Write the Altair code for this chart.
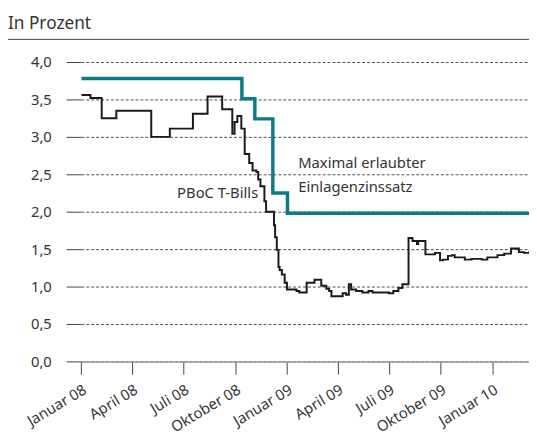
import altair as alt
import pandas as pd

# PBoC T-Bills (in %)
bill_dates = [
    "2008-01-02", "2008-01-18", "2008-02-07", "2008-03-04", "2008-05-05",
    "2008-06-07", "2008-07-18", "2008-08-13", "2008-09-08", "2008-09-26",
    "2008-09-30", "2008-10-05", "2008-10-12", "2008-10-18", "2008-10-26",
    "2008-11-01", "2008-11-08", "2008-11-11", "2008-11-15", "2008-11-22",
    "2008-11-25", "2008-12-09", "2008-12-11", "2008-12-14", "2008-12-17",
    "2008-12-19", "2008-12-23", "2008-12-28", "2009-01-01", "2009-01-04",
    "2009-01-18", "2009-01-23", "2009-02-05", "2009-02-19", "2009-03-03",
    "2009-03-12", "2009-03-17", "2009-03-21", "2009-04-10", "2009-04-16",
    "2009-04-21", "2009-04-25", "2009-05-04", "2009-05-15", "2009-05-26",
    "2009-06-02", "2009-07-01", "2009-07-09", "2009-07-18", "2009-07-25",
    "2009-08-05", "2009-08-12", "2009-08-20", "2009-08-22", "2009-09-04",
    "2009-09-21", "2009-09-30", "2009-10-05", "2009-10-14", "2009-10-21",
    "2009-10-26", "2009-11-13", "2009-11-25", "2009-12-13", "2009-12-23",
    "2010-01-10", "2010-01-22", "2010-02-03", "2010-02-12", "2010-02-17",
    "2010-02-26", "2010-03-07",
]
bill_vals = [
    3.56, 3.52, 3.25, 3.35, 3.00,
    3.11, 3.31, 3.54, 3.37, 3.04,
    3.20, 3.28, 3.11, 2.77, 2.65,
    2.55, 2.53, 2.43, 2.34, 2.14,
    2.00, 1.82, 1.66, 1.49, 1.26,
    1.22, 1.16, 1.05, 0.96, 0.96,
    0.94, 0.92, 1.05, 1.09, 1.01,
    0.97, 0.94, 0.87, 0.91, 0.89,
    1.03, 0.96, 0.94, 0.92, 0.94,
    0.92, 0.91, 0.94, 0.98, 1.03,
    1.65, 1.61, 1.57, 1.61, 1.43,
    1.45, 1.35, 1.36, 1.41, 1.42,
    1.39, 1.36, 1.37, 1.36, 1.39,
    1.42, 1.44, 1.51, 1.51, 1.46,
    1.45, 1.47,
]

# Maximal erlaubter Einlagenzinssatz (in %)
cap_dates = ["2008-01-02", "2008-10-13", "2008-11-05", "2008-12-07", "2009-01-02", "2010-03-07"]
cap_vals = [3.78, 3.51, 3.24, 2.25, 1.98, 1.98]

# annotations
left_texts = ["PBoC T-Bills"]
left_dates = ["2008-11-11"]
left_vals = [2.25]
right_texts = ["Maximal erlaubter", "Einlagenzinssatz"]
right_dates = ["2009-01-21", "2009-01-21"]
right_vals = [2.65, 2.33]

y_ticks = [0, 0.5, 1.0, 1.5, 2.0, 2.5, 3.0, 3.5, 4.0]
x_ticks = [(2008, 1), (2008, 4), (2008, 7), (2008, 10), (2009, 1), (2009, 4), (2009, 7), (2009, 10), (2010, 1)]

FONT = "Noto Sans"
TXT = "#333333"


def local(ds):
    return [d + "T00:00:00" for d in ds]


bills = pd.DataFrame({"date": local(bill_dates), "value": bill_vals})
caps = pd.DataFrame({"date": local(cap_dates), "value": cap_vals})
ann_l = pd.DataFrame({"text": left_texts, "date": local(left_dates), "value": left_vals})
ann_r = pd.DataFrame({"text": right_texts, "date": local(right_dates), "value": right_vals})

x_scale = alt.Scale(domain=[alt.DateTime(year=2008, month=1, date=1),
                            alt.DateTime(year=2010, month=3, date=7)])
y_scale = alt.Scale(domain=[0, 4])

month_names = "['Januar','Februar','März','April','Mai','Juni','Juli','August','September','Oktober','November','Dezember']"

x_axis = alt.Axis(
    values=[alt.DateTime(year=y, month=m, date=1) for y, m in x_ticks],
    tickCount=40, labelOverlap=False,
    labelExpr=month_names + "[month(datum.value)] + ' ' + timeFormat(datum.value, '%y')",
    labelAngle=-31, labelAlign="right", labelBaseline="top", labelPadding=8,
    labelFont=FONT, labelFontSize=15, labelColor=TXT,
    tickSize=13, tickColor="#444444", tickWidth=1,
    domain=True, domainColor="#9a9a9a", domainWidth=1.5,
    grid=False, title=None,
)
y_axis = alt.Axis(
    values=y_ticks,
    tickCount=40, labelOverlap=False,
    labelExpr="replace(format(datum.value, '.1f'), '.', ',')",
    labelFont=FONT, labelFontSize=15, labelColor=TXT, labelPadding=15,
    tickSize=15, tickColor="#444444", tickWidth=1,
    domain=False, grid=True, gridDash=[3, 2], gridColor="#222222", gridWidth=0.8,
    title=None,
)

bill_line = alt.Chart(bills).mark_line(
    interpolate="step-after", color="#1a1a1a", strokeWidth=2
).encode(
    x=alt.X("date:T", scale=x_scale, axis=x_axis),
    y=alt.Y("value:Q", scale=y_scale, axis=y_axis),
)

cap_line = alt.Chart(caps).mark_line(
    interpolate="step-after", color="#0a7d84", strokeWidth=3.5
).encode(
    x=alt.X("date:T", scale=x_scale),
    y=alt.Y("value:Q", scale=y_scale),
)

labels_l = alt.Chart(ann_l).mark_text(
    font=FONT, fontSize=15, color=TXT, baseline="middle", align="right"
).encode(
    x=alt.X("date:T", scale=x_scale),
    y=alt.Y("value:Q", scale=y_scale),
    text="text:N",
)
labels_r = alt.Chart(ann_r).mark_text(
    font=FONT, fontSize=15, color=TXT, baseline="middle", align="left"
).encode(
    x=alt.X("date:T", scale=x_scale),
    y=alt.Y("value:Q", scale=y_scale),
    text="text:N",
)

title_df = pd.DataFrame({"t": ["In Prozent"]})
title = alt.Chart(title_df).mark_text(
    font=FONT, fontSize=17.5, color=TXT, align="left", baseline="alphabetic"
).encode(x=alt.value(-74), y=alt.value(-33.5), text="t:N")

rule = alt.Chart(title_df).mark_rule(color="#444444", strokeWidth=1).encode(
    x=alt.value(-74), x2=alt.value(460), y=alt.value(-23)
)

chart = alt.layer(bill_line, cap_line, labels_l, labels_r, title, rule).properties(
    width=455, height=304,
    autosize=alt.AutoSizeParams(type="none"),
    padding={"left": 74, "top": 51.5, "right": 0, "bottom": 80},
).configure_view(stroke=None)

chart.save("out.html", embed_options={"renderer": "svg", "actions": False})
